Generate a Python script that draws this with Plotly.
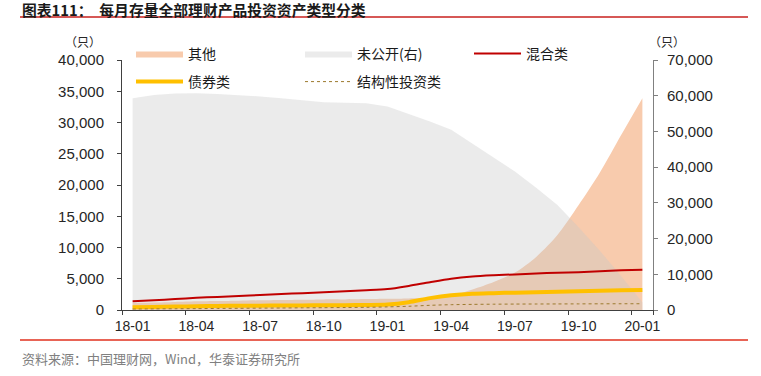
import plotly.graph_objects as go

# ---------------- data ----------------
months = ["18-01", "18-02", "18-03", "18-04", "18-05", "18-06", "18-07", "18-08", "18-09",
          "18-10", "18-11", "18-12", "19-01", "19-02", "19-03", "19-04", "19-05", "19-06",
          "19-07", "19-08", "19-09", "19-10", "19-11", "19-12", "20-01"]
tick_labels = ["18-01", "18-04", "18-07", "18-10", "19-01", "19-04", "19-07", "19-10", "20-01"]

other = [1150, 1200, 1300, 1400, 1450, 1500, 1550, 1600, 1650, 1700, 1700, 1750, 1800,
         1850, 1950, 2300, 3300, 4500, 6000, 8500, 12000, 16800, 22000, 28000, 33900]
undisclosed = [59300, 60200, 60600, 60700, 60500, 60200, 59800, 59300, 58800, 58200, 58000,
               57900, 57000, 55000, 52800, 50500, 46600, 42700, 38800, 34200, 29400, 23200,
               16600, 9500, 2200]
mixed = [1400, 1550, 1750, 1950, 2100, 2250, 2400, 2550, 2700, 2850, 3000, 3150, 3350,
         3850, 4450, 5000, 5350, 5550, 5700, 5850, 5950, 6050, 6200, 6350, 6450]
bond = [450, 500, 550, 600, 650, 680, 700, 720, 740, 760, 780, 800, 870, 1250, 1900,
        2350, 2600, 2700, 2780, 2850, 2920, 3000, 3080, 3150, 3220]
structured = [150, 180, 200, 220, 250, 270, 300, 320, 350, 370, 400, 430, 500, 600, 750,
              850, 900, 930, 950, 960, 970, 980, 990, 1000, 1000]

names = ["其他", "未公开(右)", "混合类", "债券类", "结构性投资类"]

CJK = "Noto Sans CJK SC"
LAT = "Liberation Sans, Arial"

fig = go.Figure()
fig.add_trace(go.Scatter(x=months, y=other, name=names[0], mode="lines", fill="tozeroy",
                         fillcolor="#F8CBAD", line=dict(width=0, shape="spline", smoothing=0.8),
                         yaxis="y", legend="legend"))
fig.add_trace(go.Scatter(x=months, y=undisclosed, name=names[1], mode="lines", fill="tozeroy",
                         fillcolor="rgba(200,200,200,0.36)", line=dict(width=0),
                         yaxis="y2", legend="legend"))
fig.add_trace(go.Scatter(x=months, y=mixed, name=names[2], mode="lines",
                         line=dict(color="#C00000", width=2, shape="spline", smoothing=0.8),
                         yaxis="y3", legend="legend"))
fig.add_trace(go.Scatter(x=months, y=bond, name=names[3], mode="lines",
                         line=dict(color="#FFC000", width=4, shape="spline", smoothing=0.8),
                         yaxis="y3", legend="legend2"))
fig.add_trace(go.Scatter(x=months, y=structured, name=names[4], mode="lines",
                         line=dict(color="#9C7A2E", width=1, dash="dot", shape="spline", smoothing=0.8),
                         yaxis="y3", legend="legend2"))

L, R, T, B = 122, 108, 60, 66
W, H = 761, 376
pw, ph = W - L - R, H - T - B


def px(xp):
    return (xp - L) / pw


def py(yp):
    return (H - B - yp) / ph


def cx(xp):
    return xp / W


def cy(yp):
    return (H - yp) / H


legend_common = dict(orientation="h", xref="container", yref="container", xanchor="left",
                     yanchor="middle", entrywidth=107, entrywidthmode="pixels", itemwidth=47,
                     bgcolor="rgba(0,0,0,0)", traceorder="normal",
                     font=dict(family=CJK, size=14, color="#1a1a1a"))

fig.update_layout(
    width=W, height=H,
    margin=dict(l=L, r=R, t=T, b=B, autoexpand=False),
    paper_bgcolor="white", plot_bgcolor="white",
    font=dict(family=LAT, size=14, color="#262626"),
    xaxis=dict(type="category", categoryorder="array", categoryarray=months,
               tickmode="array", tickvals=tick_labels, ticktext=tick_labels,
               tickson="boundaries", ticks="outside", ticklen=4, tickcolor="#404040",
               tickangle=0, automargin=False,
               range=[-0.5, 24.5], showline=True, linecolor="#404040", linewidth=1,
               showgrid=False, zeroline=False, ticklabelstandoff=3,
               tickfont=dict(family=LAT, size=14, color="#262626")),
    yaxis=dict(range=[0, 40000], tickmode="array", automargin=False,
               tickvals=[0, 5000, 10000, 15000, 20000, 25000, 30000, 35000, 40000],
               tickformat=",", ticks="outside", ticklen=4, tickcolor="#404040",
               showline=True, linecolor="#404040", linewidth=1, showgrid=False,
               zeroline=False, ticklabelstandoff=10,
               tickfont=dict(family=LAT, size=15, color="#262626")),
    yaxis2=dict(range=[0, 70000], overlaying="y", side="right", anchor="x", tickmode="array",
                tickvals=[0, 10000, 20000, 30000, 40000, 50000, 60000, 70000], automargin=False,
                tickformat=",", ticks="outside", ticklen=4, tickcolor="#808080",
                showline=True, linecolor="#808080", linewidth=1, showgrid=False,
                zeroline=False, ticklabelstandoff=6,
                tickfont=dict(family=LAT, size=15, color="#262626")),
    yaxis3=dict(range=[0, 40000], overlaying="y", visible=False),
    legend=dict(x=cx(131), y=cy(54), **legend_common),
    legend2=dict(x=cx(131), y=cy(82), **legend_common),
    showlegend=True,
    hovermode=False,
)

fig.add_shape(type="line", xref="paper", yref="paper", x0=px(20), x1=px(748),
              y0=py(17), y1=py(17), line=dict(color="#C8201E", width=1.5))
fig.add_shape(type="line", xref="paper", yref="paper", x0=px(20), x1=px(748),
              y0=py(340), y1=py(340), line=dict(color="#E0301E", width=1.5))

fig.add_annotation(text="<b>图表111：  每月存量全部理财产品投资资产类型分类</b>",
                   xref="paper", yref="paper", x=px(20), y=py(9), xanchor="left",
                   yanchor="middle", showarrow=False,
                   font=dict(family=CJK, size=14.8, color="#1a1a1a"))
fig.add_annotation(text="资料来源：中国理财网，Wind，华泰证券研究所",
                   xref="paper", yref="paper", x=px(20), y=py(358), xanchor="left",
                   yanchor="middle", showarrow=False,
                   font=dict(family=CJK, size=13, color="#808080"))
fig.add_annotation(text="（只）", xref="paper", yref="paper", x=px(83), y=py(42),
                   xanchor="center", yanchor="middle", showarrow=False,
                   font=dict(family=CJK, size=12, color="#262626"))
fig.add_annotation(text="（只）", xref="paper", yref="paper", x=px(667), y=py(42),
                   xanchor="center", yanchor="middle", showarrow=False,
                   font=dict(family=CJK, size=12, color="#262626"))

fig.write_html("out.html", config={"displayModeBar": False},
               post_script="document.body.style.margin='0px';")
